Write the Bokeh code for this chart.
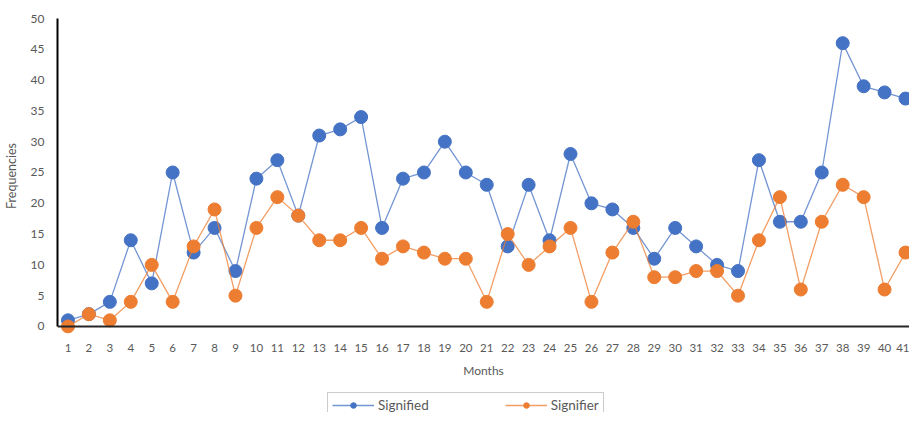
from bokeh.plotting import figure
from bokeh.layouts import column
from bokeh.models import FixedTicker, Span, Legend, LegendItem, Range1d
from bokeh.embed import file_html
from bokeh.resources import INLINE

months = list(range(1, 42))
signified = [1, 2, 4, 14, 7, 25, 12, 16, 9, 24, 27, 18, 31, 32, 34, 16, 24, 25, 30, 25,
             23, 13, 23, 14, 28, 20, 19, 16, 11, 16, 13, 10, 9, 27, 17, 17, 25, 46, 39, 38, 37]
signifier = [0, 2, 1, 4, 10, 4, 13, 19, 5, 16, 21, 18, 14, 14, 16, 11, 13, 12, 11, 11,
             4, 15, 10, 13, 16, 4, 12, 17, 8, 8, 9, 9, 5, 14, 21, 6, 17, 23, 21, 6, 12]
y_ticks = [0, 5, 10, 15, 20, 25, 30, 35, 40, 45, 50]
series_names = ["Signified", "Signifier"]

BLUE = "#4472C4"
ORANGE = "#ED7D31"
TEXT = "#595959"
FONT = "Lato"

p = figure(frame_width=852, frame_height=315, output_backend="svg", toolbar_location=None,
           x_range=Range1d(0.5, 41.19), y_range=Range1d(-1.14, 50),
           min_border_left=49, min_border_top=18, min_border_right=0, min_border_bottom=51)
p.outline_line_color = None
p.grid.visible = False

p.xaxis.ticker = FixedTicker(ticks=months)
p.xaxis.axis_line_color = None
p.xaxis.major_tick_line_color = None
p.xaxis.minor_tick_line_color = None
p.xaxis.major_tick_out = 0
p.xaxis.major_label_standoff = 10
p.xaxis.major_label_text_font = FONT
p.xaxis.major_label_text_font_size = "11.5px"
p.xaxis.major_label_text_color = TEXT
p.xaxis.axis_label = "Months"
p.xaxis.axis_label_text_font = FONT
p.xaxis.axis_label_text_font_size = "12px"
p.xaxis.axis_label_text_font_style = "normal"
p.xaxis.axis_label_text_color = TEXT
p.xaxis.axis_label_standoff = 8

p.yaxis.ticker = FixedTicker(ticks=y_ticks)
p.yaxis.bounds = (0, 50)
p.yaxis.axis_line_color = "black"
p.yaxis.axis_line_width = 2
p.yaxis.major_tick_line_color = None
p.yaxis.minor_tick_line_color = None
p.yaxis.major_tick_out = 0
p.yaxis.major_label_standoff = 13
p.yaxis.major_label_text_font = FONT
p.yaxis.major_label_text_font_size = "12px"
p.yaxis.major_label_text_color = TEXT
p.yaxis.axis_label = "Frequencies"
p.yaxis.axis_label_text_font = FONT
p.yaxis.axis_label_text_font_size = "12.5px"
p.yaxis.axis_label_text_font_style = "normal"
p.yaxis.axis_label_text_color = TEXT
p.yaxis.axis_label_standoff = 9

p.add_layout(Span(location=0, dimension="width", line_color="#262626", line_width=2))

p.line(months, signified, line_color=BLUE, line_width=1.3, line_alpha=0.75)
p.scatter(months, signified, size=13, fill_color=BLUE, line_color=BLUE)
p.line(months, signifier, line_color=ORANGE, line_width=1.3, line_alpha=0.75)
p.scatter(months, signifier, size=13, fill_color=ORANGE, line_color=ORANGE)

# legend strip below the chart (its renderers sit outside its visible range)
q = figure(width=901, height=28, output_backend="svg", toolbar_location=None,
           x_range=Range1d(0, 1), y_range=Range1d(0, 1),
           min_border_left=0, min_border_top=0, min_border_right=0, min_border_bottom=0)
q.outline_line_color = None
q.grid.visible = False
q.axis.visible = False
ql1 = q.line([-5, -4], [-5, -5], line_color=BLUE, line_width=1.3, line_alpha=0.75)
qm1 = q.scatter([-5], [-5], size=9, fill_color=BLUE, line_color=BLUE)
ql2 = q.line([-5, -4], [-5, -5], line_color=ORANGE, line_width=1.3, line_alpha=0.75)
qm2 = q.scatter([-5], [-5], size=9, fill_color=ORANGE, line_color=ORANGE)
legend = Legend(items=[LegendItem(label=series_names[0], renderers=[ql1, qm1]),
                       LegendItem(label=series_names[1], renderers=[ql2, qm2])],
                orientation="horizontal", location=(270, -6),
                glyph_width=42, glyph_height=14, label_height=14,
                label_standoff=4, spacing=76, padding=4, margin=0,
                label_text_font=FONT, label_text_font_size="13.5px", label_text_color=TEXT,
                border_line_color="#999999", border_line_width=1,
                background_fill_color="white", background_fill_alpha=1)
q.add_layout(legend, "center")

layout = column(p, q, spacing=0)
open("out.html", "w").write(file_html(layout, INLINE))
